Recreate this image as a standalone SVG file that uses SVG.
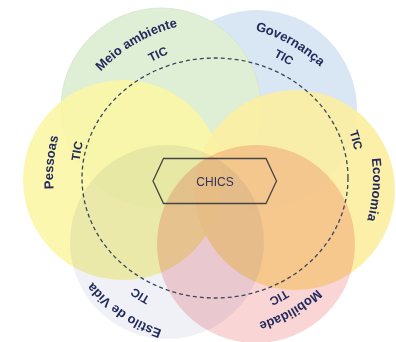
<svg xmlns="http://www.w3.org/2000/svg" width="396" height="342" viewBox="0 0 396 342">
<style>
.lbl{font-family:"Liberation Sans",Arial,sans-serif;font-weight:bold;font-size:13px;fill:#232a5c}
.tic{font-family:"Liberation Sans",Arial,sans-serif;font-weight:bold;font-size:12px;fill:#232a5c}
.mul{mix-blend-mode:multiply}
</style>
<defs>
<path id="pMeio" d="M61.6,206.2 A156,156 0 0 1 314.4,57.8"/>
<path id="pGov" d="M115.2,62.0 A153,153 0 0 1 366.0,202.7"/>
<path id="pPes" d="M145.3,324.2 A162,162 0 0 1 174.4,21.2"/>
<path id="pEco" d="M279.8,33.9 A158,158 0 0 1 258.0,330.0"/>
<path id="pEst" d="M308.7,308.9 A161,161 0 0 1 59.1,138.0"/>
<path id="pMob" d="M363.8,152.6 A151,151 0 0 1 117.3,293.2"/>
<path id="tMeio" d="M83.0,188.9 A132.5,132.5 0 0 1 309.2,84.8"/>
<path id="tGov" d="M127.7,75.0 A135,135 0 0 1 348.1,200.7"/>
<path id="tPes" d="M144.5,294.9 A136.5,136.5 0 0 1 193.9,43.1"/>
<path id="tEco" d="M227.1,36.5 A142,142 0 0 1 296.7,294.2"/>
<path id="tEst" d="M297.9,285.6 A135.8,135.8 0 0 1 82.4,148.8"/>
<path id="tMob" d="M345.7,159.4 A132,132 0 0 1 126.9,276.2"/>
</defs>
<rect width="396" height="342" fill="#ffffff"/>
<g id="governanca">
<circle cx="257" cy="110" r="100" fill="#d9e6f4"/>
</g>
<g id="meio-ambiente">
<circle cx="161" cy="108" r="100" fill="#dfefd6" stroke="#d2e6c6" stroke-width="0.8"/>
</g>
<g id="pessoas">
<circle cx="123" cy="180" r="100" fill="#fbf6a6" fill-opacity="0.9"/>
</g>
<g id="economia">
<circle cx="295" cy="190" r="100" fill="#fcefa2" fill-opacity="0.92"/>
</g>
<g id="estilo-de-vida">
<circle class="mul" cx="167" cy="242" r="97" fill="#eff1f7"/>
</g>
<g id="mobilidade">
<circle class="mul" cx="256" cy="244" r="99" fill="#f9d5d6"/>
</g>
<g id="connectors">
<ellipse cx="215" cy="178" rx="133" ry="120" fill="none" stroke="#3a465a" stroke-width="1.3" stroke-dasharray="4 3"/>
</g>
<g id="labels">
<text class="lbl"><textPath href="#pMeio" startOffset="50%" text-anchor="middle">Meio ambiente</textPath></text>
<text class="lbl"><textPath href="#pGov" startOffset="50%" text-anchor="middle">Governança</textPath></text>
<text class="lbl"><textPath href="#pPes" startOffset="50%" text-anchor="middle">Pessoas</textPath></text>
<text class="lbl"><textPath href="#pEco" startOffset="50%" text-anchor="middle">Economia</textPath></text>
<text class="lbl"><textPath href="#pEst" startOffset="50%" text-anchor="middle">Estilo de Vida</textPath></text>
<text class="lbl"><textPath href="#pMob" startOffset="50%" text-anchor="middle">Mobilidade</textPath></text>
<text class="tic"><textPath href="#tMeio" startOffset="50%" text-anchor="middle">TIC</textPath></text>
<text class="tic"><textPath href="#tGov" startOffset="50%" text-anchor="middle">TIC</textPath></text>
<text class="tic"><textPath href="#tPes" startOffset="50%" text-anchor="middle">TIC</textPath></text>
<text class="tic"><textPath href="#tEco" startOffset="50%" text-anchor="middle">TIC</textPath></text>
<text class="tic"><textPath href="#tEst" startOffset="50%" text-anchor="middle">TIC</textPath></text>
<text class="tic"><textPath href="#tMob" startOffset="50%" text-anchor="middle">TIC</textPath></text>
</g>
<g id="chics">
<polygon points="153,181 163.5,158.5 266,158.5 276.5,181 266,203.5 163.5,203.5" fill="none" stroke="#454545" stroke-width="1.3"/>
<text x="215" y="185.5" text-anchor="middle" font-family="Liberation Sans, Arial, sans-serif" font-size="12" fill="#33335a">CHICS</text>
</g>
</svg>
